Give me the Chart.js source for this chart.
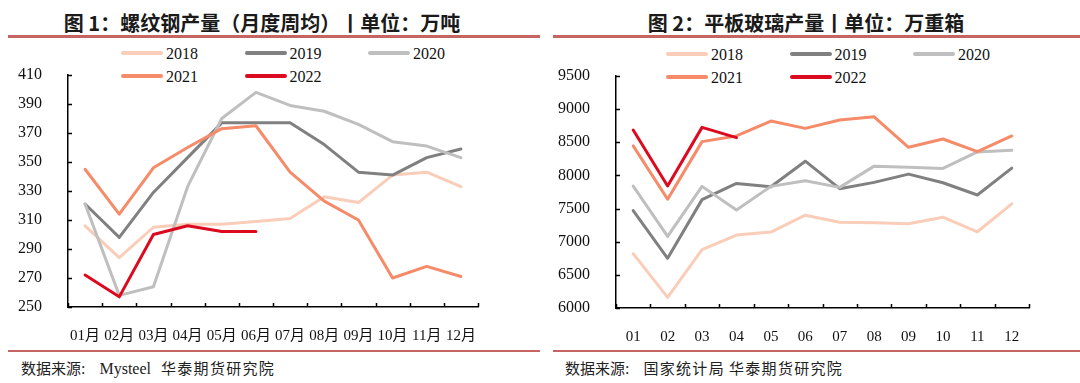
<!DOCTYPE html>
<html><head><meta charset="utf-8">
<script src="https://cdn.jsdelivr.net/npm/chart.js@4/dist/chart.umd.min.js"></script>
<style>
html,body{margin:0;padding:0;background:#fff;}
body{width:1080px;height:383px;position:relative;overflow:hidden;font-family:'Noto Sans CJK SC',sans-serif;}
.title{position:absolute;top:8px;font-weight:bold;font-size:20px;color:#1a1a1a;white-space:nowrap;transform:translateX(-50%);}
.rule{position:absolute;height:3px;background:#C66461;}
.rule2{position:absolute;height:2px;background:#C66461;}
.src{position:absolute;top:357px;font-size:15px;color:#222;white-space:nowrap;}
.src .lat{font-family:'Liberation Serif',serif;font-size:16px;}
.src .ls{letter-spacing:1.3px;}
canvas{position:absolute;top:0;}
.leg{position:absolute;font-family:'Liberation Serif',serif;font-size:16px;color:#111;white-space:nowrap;}
.leg i{display:inline-block;width:42px;height:4px;border-radius:2px;vertical-align:middle;margin-right:3px;position:relative;top:-2px;}
</style></head>
<body>
<div class="title" style="left:262px">图 1：螺纹钢产量（月度周均）丨单位：万吨</div>
<div class="title" style="left:806px">图 2：平板玻璃产量丨单位：万重箱</div>
<div class="rule" style="left:8px;width:532px;top:35px"></div>
<div class="rule" style="left:553px;width:527px;top:35px"></div>
<div class="rule2" style="left:8px;width:532px;top:350px"></div>
<div class="rule2" style="left:553px;width:527px;top:350px"></div>
<div class="src" style="left:21px">数据来源<span class="lat">:</span><span class="lat" style="margin-left:14px">Mysteel</span><span class="ls" style="margin-left:10px">华泰期货研究院</span></div>
<div class="src" style="left:565px">数据来源<span class="lat">:</span><span class="ls" style="margin-left:14px">国家统计局</span><span class="ls" style="margin-left:4px">华泰期货研究院</span></div>
<div id="leg1"></div><div id="leg2"></div>
<canvas id="c1" width="540" height="383" style="left:0"></canvas>
<canvas id="c2" width="540" height="383" style="left:540px"></canvas>
<script>
// ---- data ----
const seriesNames = ['2018','2019','2020','2021','2022'];
const seriesColors = ['#F9CDB8','#808080','#BFBFBF','#F58B68','#DC0A1E'];

const rebarMonths = ['01月','02月','03月','04月','05月','06月','07月','08月','09月','10月','11月','12月'];
const rebar2018 = [306,284,305,307,307,309,311,326,322,341,343,333];
const rebar2019 = [321,298,329,353,377,377,377,362,343,341,353,359];
const rebar2020 = [321,258,264,333,380,398,389,385,376,364,361,353];
const rebar2021 = [345,314,346,360,373,375,343,323,310,270,278,271];
const rebar2022 = [272,257,300,306,302,302];
const rebarTicks = {min:250, max:410, step:20};

const glassMonths = ['01','02','03','04','05','06','07','08','09','10','11','12'];
const glass2018 = [6820,6160,6880,7100,7145,7400,7295,7285,7270,7370,7150,7570];
const glass2019 = [7470,6750,7635,7880,7830,8215,7800,7895,8020,7890,7705,8110];
const glass2020 = [7840,7080,7835,7480,7835,7920,7820,8140,8125,8105,8355,8380];
const glass2021 = [8445,7640,8510,8595,8820,8710,8835,8885,8425,8550,8360,8595];
const glass2022 = [8685,7840,8725,8570];
const glassTicks = {min:6000, max:9500, step:500};

// ---- legends ----
function buildLegend(id, left, top){
  const el=document.getElementById(id);
  seriesNames.forEach((n,i)=>{
    const d=document.createElement('div');
    d.className='leg';
    d.style.left=(left+(i%3)*123.5)+'px';
    d.style.top=(top+Math.floor(i/3)*23)+'px';
    d.innerHTML='<i style="background:'+seriesColors[i]+'"></i>'+n;
    el.appendChild(d);
  });
}
buildLegend('leg1',121,45);
buildLegend('leg2',666,46);

// inward tick marks plugin
const inwardTicks = {
  id:'inwardTicks',
  afterDraw(chart){
    const ctx=chart.ctx, x=chart.scales.x, y=chart.scales.y;
    ctx.save();
    ctx.strokeStyle='#000'; ctx.lineWidth=1.5;
    const n=x.getLabels().length;
    const w=x.getPixelForValue(1)-x.getPixelForValue(0);
    ctx.beginPath();
    for(let i=0;i<=n;i++){
      const px=Math.round(x.getPixelForValue(0)-w/2+i*w)+0.5;
      ctx.moveTo(px,y.bottom); ctx.lineTo(px,y.bottom-4);
    }
    y.ticks.forEach(t=>{
      const py=Math.round(y.getPixelForValue(t.value))+0.5;
      ctx.moveTo(x.left,py); ctx.lineTo(x.left+4,py);
    });
    ctx.stroke();
    ctx.restore();
  }
};

function makeChart(id, labels, data, ticks, pad){
  const datasets = data.map((d,i)=>({
    label: seriesNames[i], data: d, borderColor: seriesColors[i], backgroundColor: seriesColors[i],
    borderWidth: 3, pointRadius: 0, tension: 0, fill:false, order: data.length-i,
    borderJoinStyle:'round', borderCapStyle:'round'
  }));
  return new Chart(document.getElementById(id), {
    type:'line',
    data:{labels, datasets},
    plugins:[inwardTicks],
    options:{
      responsive:false, animation:false, devicePixelRatio:1,
      layout:{padding:pad},
      plugins:{legend:{display:false}, tooltip:{enabled:false}},
      scales:{
        x:{
          type:'category', offset:true,
          grid:{display:false},
          border:{display:true,color:'#000',width:1.5},
          ticks:{color:'#111',padding:12,maxRotation:0,autoSkip:false,
            font:{family:"'Liberation Serif','Noto Sans CJK SC'",size:15}},
          afterFit(s){s.height=40;}
        },
        y:{
          min:ticks.min, max:ticks.max,
          grid:{display:false},
          border:{display:true,color:'#000',width:1.5},
          ticks:{stepSize:ticks.step,color:'#111',padding:18,
            callback:v=>String(v),
            font:{family:"'Liberation Serif'",size:16}},
          afterFit(s){s.width=60;}
        }
      }
    }
  });
}

makeChart('c1', rebarMonths, [rebar2018,rebar2019,rebar2020,rebar2021,rebar2022], rebarTicks,
  {left:8,right:62,top:75,bottom:36});
makeChart('c2', glassMonths, [glass2018,glass2019,glass2020,glass2021,glass2022], glassTicks,
  {left:16,right:51,top:76,bottom:35});
</script>
</body></html>
